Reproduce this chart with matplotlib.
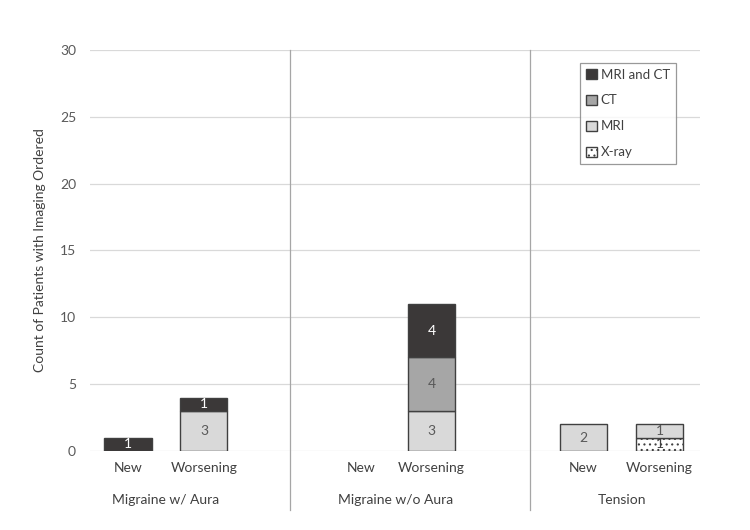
import numpy as np
import matplotlib
matplotlib.use('Agg')
import matplotlib.pyplot as plt
from matplotlib.patches import Patch

plt.rcParams['font.family'] = ['Lato', 'DejaVu Sans']
plt.rcParams['hatch.color'] = '#404040'
plt.rcParams['hatch.linewidth'] = 0.8

# data
bar_labels = ['New', 'Worsening', 'New', 'Worsening', 'New', 'Worsening']
groups = ['Migraine w/ Aura', 'Migraine w/o Aura', 'Tension']
xray = [0, 0, 0, 0, 0, 1]
mri = [0, 3, 0, 3, 2, 1]
ct = [0, 0, 0, 4, 0, 0]
mri_ct = [1, 1, 0, 4, 0, 0]

series = [
    ('X-ray', xray, 'white', '...', '#404040'),
    ('MRI', mri, '#d9d9d9', None, '#595959'),
    ('CT', ct, '#a6a6a6', None, '#595959'),
    ('MRI and CT', mri_ct, '#3b3838', None, 'white'),
]

xpos = np.array([0, 1, 3.07, 4.0, 6.0, 7.0])
group_centers = [0.5, 3.53, 6.5]
separators = [2.13, 5.29]

fig = plt.figure(figsize=(7.5, 5.3), dpi=100)
ax = fig.add_axes([0.12, 0.149, 0.813, 0.757])

bottom = np.zeros(len(xpos))
handles = []
for name, vals, color, hatch, tcolor in series:
    vals = np.array(vals, dtype=float)
    keep = vals > 0
    ax.bar(xpos[keep], vals[keep], width=0.62, bottom=bottom[keep], color=color,
           edgecolor='#404040', linewidth=1.0, hatch=hatch, zorder=3)
    handles.append(Patch(facecolor=color, edgecolor='#404040', hatch=hatch, label=name))
    for x, v, b0 in zip(xpos, vals, bottom):
        if v > 0:
            ax.text(x, b0 + v / 2, f'{int(v)}', ha='center', va='center',
                    fontsize=10, color=tcolor, zorder=4)
    bottom += vals

ax.set_ylim(0, 30)
ax.set_xlim(-0.5, 7.53)
ax.set_yticks(range(0, 31, 5))
ax.yaxis.grid(True, color='#d9d9d9', linewidth=0.9, zorder=0)
ax.set_axisbelow(True)
for s in ax.spines.values():
    s.set_visible(False)
ax.tick_params(axis='y', length=0, labelcolor='#595959', labelsize=10, pad=10)
ax.set_xticks(xpos)
ax.set_xticklabels(bar_labels)
ax.tick_params(axis='x', length=0, labelcolor='#404040', labelsize=10, pad=8)

for g, c in zip(groups, group_centers):
    ax.text(c, -0.122, g, transform=ax.get_xaxis_transform(), ha='center', va='center',
            fontsize=10, color='#404040')

for s in separators:
    ax.axvline(s, ymin=-0.147, ymax=1.0, color='#a6a6a6', linewidth=0.9, clip_on=False, zorder=1)

ax.set_ylabel('Count of Patients with Imaging Ordered', fontsize=10, color='#404040', labelpad=10)

leg = ax.legend(handles[::-1], [s[0] for s in series][::-1], loc='upper right',
                bbox_to_anchor=(0.961, 0.968), borderaxespad=0, frameon=True, fancybox=False,
                edgecolor='#808080', fontsize=9.5, handlelength=0.8, handleheight=0.8,
                handletextpad=0.3, labelspacing=1.05, borderpad=0.45)
for t in leg.get_texts():
    t.set_color('#404040')
leg.get_frame().set_linewidth(0.9)

fig.savefig('out.png', dpi=100)
